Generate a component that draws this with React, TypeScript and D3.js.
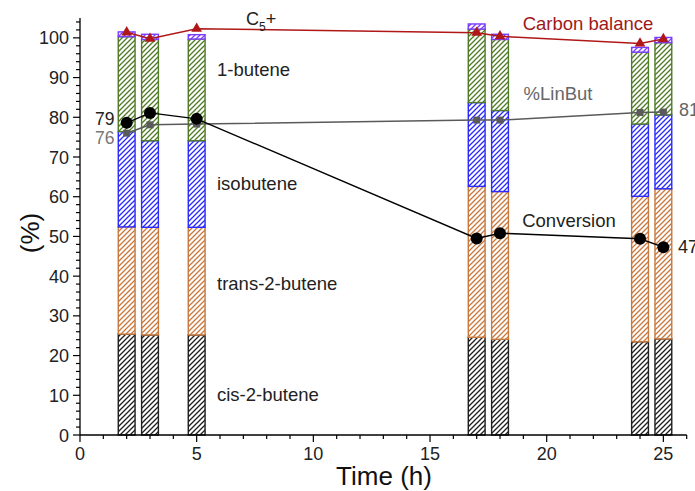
import React from 'react';
import * as d3 from 'd3';

const times = [2, 3, 5, 17, 18, 24, 25];
const cis = [25.4, 25.2, 25.2, 24.6, 24.1, 23.5, 24.2];
const trans = [27.0, 27.1, 27.1, 38.0, 37.2, 36.6, 37.8];
const iso = [24.0, 21.8, 21.8, 21.1, 20.4, 18.2, 18.6];
const butene1 = [23.9, 25.5, 25.6, 18.5, 17.9, 18.1, 18.2];
const c5plus = [1.2, 1.3, 1.1, 1.3, 1.3, 1.2, 1.3];

const conversion = [78.6, 81.1, 79.6, 49.5, 50.8, 49.4, 47.3];
const linBut = [76.0, 78.1, 78.3, 79.3, 79.3, 81.2, 81.3];
const carbonBalance = [101.4, 99.8, 102.3, 101.3, 100.4, 98.6, 99.7];

const xTicks = [0, 5, 10, 15, 20, 25];
const yTicks = [0, 10, 20, 30, 40, 50, 60, 70, 80, 90, 100];

const keys = ['cis', 'trans', 'iso', 'but1', 'c5'];
const colors: Record<string, string> = {
    cis: '#1e1e1e',
    trans: '#c8783c',
    iso: '#2a2aff',
    but1: '#4f7a26',
    c5: '#7a3cff'
};

const x = d3.scaleLinear().domain([0, 26]).range([80, 686.7]);
const y = d3.scaleLinear().domain([0, 105]).range([435, 18]);

const font = '"Liberation Sans", Arial, sans-serif';

const rows = times.map((t, i) => ({
    t,
    cis: cis[i],
    trans: trans[i],
    iso: iso[i],
    but1: butene1[i],
    c5: c5plus[i]
}));

const App = () => {
    const stacked = d3.stack<any>().keys(keys)(rows);
    const barW = x(0.72) - x(0);
    const lineGen = d3.line<[number, number]>().x(d => x(d[0])).y(d => y(d[1]));
    const xMinor = d3.range(0, 27, 1);
    const yMinor = d3.range(0, 105.1, 2);
    const tri = d3.symbol().type(d3.symbolTriangle).size(50)();

    return (
        <svg width={695} height={491} style={{ position: 'absolute', left: 0, top: 0 }} fontFamily={font}>
            <defs>
                {keys.map(k => (
                    <pattern key={k} id={'hatch-' + k} patternUnits="userSpaceOnUse" width={5} height={5}>
                        <rect width={5} height={5} fill="#fff" />
                        <path d="M-1,1 l2,-2 M0,5 l5,-5 M4,6 l2,-2" stroke={colors[k]} strokeWidth={1.3} />
                    </pattern>
                ))}
            </defs>

            {/* stacked bars */}
            {stacked.map(layer => (
                <g key={layer.key}>
                    {layer.map((d, i) => (
                        <rect key={i}
                            x={x(times[i]) - barW / 2}
                            y={y(d[1])}
                            width={barW}
                            height={y(d[0]) - y(d[1])}
                            fill={`url(#hatch-${layer.key})`}
                            stroke={colors[layer.key]}
                            strokeWidth={1.4} />
                    ))}
                </g>
            ))}

            {/* carbon balance */}
            <path d={lineGen(times.map((t, i) => [t, carbonBalance[i]]) as any) || ''} fill="none" stroke="#b01818" strokeWidth={1.5} />
            {times.map((t, i) => (
                <path key={i} d={tri || ''} transform={`translate(${x(t)},${y(carbonBalance[i])})`} fill="#b01818" />
            ))}

            {/* %LinBut */}
            <path d={lineGen(times.map((t, i) => [t, linBut[i]]) as any) || ''} fill="none" stroke="#5a5a5a" strokeWidth={1.5} />
            {times.map((t, i) => (
                <rect key={i} x={x(t) - 3.5} y={y(linBut[i]) - 3.5} width={7} height={7} fill="#5a5a5a" />
            ))}

            {/* conversion */}
            <path d={lineGen(times.map((t, i) => [t, conversion[i]]) as any) || ''} fill="none" stroke="#000" strokeWidth={1.4} />
            {times.map((t, i) => (
                <circle key={i} cx={x(t)} cy={y(conversion[i])} r={6} fill="#000" />
            ))}

            {/* axes */}
            <line x1={x(0)} x2={x(26)} y1={y(0)} y2={y(0)} stroke="#000" strokeWidth={1.3} />
            <line x1={x(0)} x2={x(0)} y1={y(0)} y2={y(105)} stroke="#000" strokeWidth={1.3} />
            {xMinor.map(v => (
                <line key={v} x1={x(v)} x2={x(v)} y1={y(0)} y2={y(0) + (v % 5 === 0 ? 7 : 4)} stroke="#000" strokeWidth={1.2} />
            ))}
            {yMinor.map(v => (
                <line key={v} x1={x(0)} x2={x(0) - (v % 10 === 0 ? 7 : 4)} y1={y(v)} y2={y(v)} stroke="#000" strokeWidth={1.2} />
            ))}
            {xTicks.map(v => (
                <text key={v} x={x(v)} y={y(0) + 25} textAnchor="middle" fontSize={18} fill="#222">{v}</text>
            ))}
            {yTicks.map(v => (
                <text key={v} x={x(0) - 11} y={y(v) + 6.5} textAnchor="end" fontSize={18} fill="#222">{v}</text>
            ))}
            <text x={384} y={485} textAnchor="middle" fontSize={26} fill="#111">Time (h)</text>
            <text transform={`translate(39,233) rotate(-90)`} textAnchor="middle" fontSize={26} fill="#111">(%)</text>

            {/* annotations */}
            <text x={217} y={76} fontSize={18.5} fill="#222">1-butene</text>
            <text x={217} y={190} fontSize={18.5} fill="#222">isobutene</text>
            <text x={217} y={290} fontSize={18.5} fill="#222">trans-2-butene</text>
            <text x={217} y={401} fontSize={18.5} fill="#222">cis-2-butene</text>
            <text x={246} y={25} fontSize={18} fill="#222">C<tspan fontSize={12} dy={6}>5</tspan><tspan dy={-6}>+</tspan></text>
            <text x={588} y={30} textAnchor="middle" fontSize={18.5} fill="#a01818">Carbon balance</text>
            <text x={558} y={100} textAnchor="middle" fontSize={18.5} fill="#666">%LinBut</text>
            <text x={569} y={227} textAnchor="middle" fontSize={18.5} fill="#222">Conversion</text>
            <text x={95} y={125} fontSize={17.5} fill="#222">79</text>
            <text x={95} y={144} fontSize={17.5} fill="#777">76</text>
            <text x={679} y={116} fontSize={18} fill="#666">81</text>
            <text x={678} y={253} fontSize={18} fill="#222">47</text>
        </svg>
    );
};

export default App;
